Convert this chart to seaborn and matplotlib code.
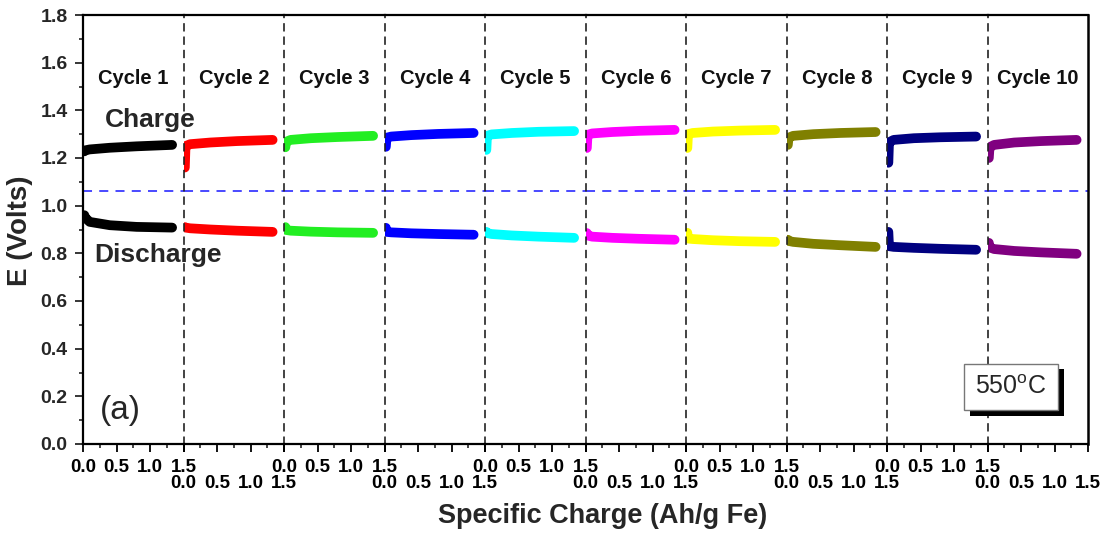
import numpy as np
import pandas as pd
import matplotlib
matplotlib.use("Agg")
import matplotlib.pyplot as plt
from matplotlib.ticker import MultipleLocator
from matplotlib import patheffects
import seaborn as sns

# ---------------- data ----------------
cycle_names = ["Cycle 1", "Cycle 2", "Cycle 3", "Cycle 4", "Cycle 5",
               "Cycle 6", "Cycle 7", "Cycle 8", "Cycle 9", "Cycle 10"]
cycle_colors = ["#000000", "#FF0000", "#22EE22", "#0000FF", "#00FFFF",
                "#FF00FF", "#FFFF00", "#808000", "#000080", "#800080"]

# specific charge (Ah/g Fe) sample points, same for every cycle
q_points = [0.02, 0.03, 0.10, 0.40, 0.80, 1.33]

charge_E = [
    [1.228, 1.232, 1.236, 1.243, 1.249, 1.255],
    [1.160, 1.250, 1.258, 1.265, 1.271, 1.276],
    [1.245, 1.268, 1.276, 1.283, 1.288, 1.293],
    [1.247, 1.285, 1.290, 1.296, 1.301, 1.305],
    [1.234, 1.293, 1.299, 1.305, 1.310, 1.313],
    [1.242, 1.297, 1.303, 1.309, 1.314, 1.318],
    [1.242, 1.300, 1.305, 1.311, 1.315, 1.318],
    [1.255, 1.285, 1.293, 1.300, 1.305, 1.309],
    [1.180, 1.266, 1.276, 1.283, 1.287, 1.290],
    [1.200, 1.245, 1.255, 1.265, 1.271, 1.276],
]
discharge_E = [
    [0.960, 0.950, 0.932, 0.918, 0.911, 0.908],
    [0.910, 0.908, 0.905, 0.900, 0.895, 0.890],
    [0.910, 0.898, 0.895, 0.891, 0.888, 0.886],
    [0.907, 0.890, 0.888, 0.884, 0.881, 0.878],
    [0.890, 0.885, 0.881, 0.875, 0.870, 0.865],
    [0.885, 0.875, 0.870, 0.865, 0.861, 0.857],
    [0.886, 0.862, 0.860, 0.855, 0.851, 0.848],
    [0.857, 0.852, 0.848, 0.840, 0.834, 0.827],
    [0.890, 0.830, 0.827, 0.823, 0.819, 0.815],
    [0.844, 0.825, 0.818, 0.810, 0.804, 0.798],
]
reference_E = 1.06
x_tick_values = [0.0, 0.5, 1.0, 1.5]
x_tick_labels = ["0.0", "0.5", "1.0", "1.5"]
temperature_label = r"550$^{\mathrm{o}}$C"

# ---------------- styling ----------------
sns.set_theme(style="ticks")
plt.rcParams["font.family"] = ["Liberation Sans", "DejaVu Sans"]
plt.rcParams["mathtext.fontset"] = "custom"
plt.rcParams["mathtext.rm"] = "Liberation Sans"
plt.rcParams["axes.facecolor"] = "none"

W, H = 1109, 535
fig, axes = plt.subplots(1, 10, sharey=True, figsize=(W / 100, H / 100), dpi=100)
fig.patch.set_facecolor("white")
fig.subplots_adjust(left=83 / W, right=1088 / W, top=1 - 15 / H,
                    bottom=1 - 444 / H, wspace=0)

for i, ax in enumerate(axes):
    df_c = pd.DataFrame({"q": q_points, "E": charge_E[i]})
    df_d = pd.DataFrame({"q": q_points, "E": discharge_E[i]})
    for df in (df_c, df_d):
        sns.lineplot(data=df, x="q", y="E", ax=ax, color=cycle_colors[i],
                     linewidth=7, sort=False, estimator=None,
                     solid_capstyle="round", solid_joinstyle="round")
    ax.axhline(reference_E, color="#3A3AFF", lw=1.3, ls=(0, (5, 4)), zorder=1)

    ax.set_xlim(0, 1.5)
    ax.set_ylim(0, 1.8)
    ax.set_xlabel("")
    ax.set_ylabel("")
    ax.set_xticks(x_tick_values)
    ax.set_xticklabels(x_tick_labels)
    ax.xaxis.set_minor_locator(MultipleLocator(0.25))
    pad = 4.5 if i % 2 == 0 else 16.5
    ax.tick_params(axis="x", which="major", direction="out", length=6,
                   width=1.3, pad=pad, labelsize=13.5, colors="black")
    ax.tick_params(axis="x", which="minor", direction="out", length=3, width=1.2)
    for lab in ax.get_xticklabels():
        lab.set_fontweight("bold")

    ax.text(0.75, 1.535, cycle_names[i], ha="center", va="center",
            fontsize=14.5, fontweight="bold", color="#111111")

    for s in ax.spines.values():
        s.set_color("black")
    ax.spines["top"].set_linewidth(1.6)
    ax.spines["bottom"].set_linewidth(1.6)
    if i == 0:
        ax.spines["left"].set_linewidth(1.6)
    else:
        ax.spines["left"].set_linewidth(1.2)
        ax.spines["left"].set_linestyle((0, (4, 4)))
        ax.spines["left"].set_color("#222222")
        ax.tick_params(axis="y", which="both", left=False, labelleft=False)
    if i == 9:
        ax.spines["right"].set_linewidth(1.8)
    else:
        ax.spines["right"].set_visible(False)

ax0 = axes[0]
ax0.yaxis.set_major_locator(MultipleLocator(0.2))
ax0.yaxis.set_minor_locator(MultipleLocator(0.1))
ax0.yaxis.set_major_formatter(matplotlib.ticker.FormatStrFormatter("%.1f"))
ax0.tick_params(axis="y", which="major", direction="out", length=6, width=1.3,
                pad=5, labelsize=14)
ax0.tick_params(axis="y", which="minor", direction="out", length=3, width=1.2)
for lab in ax0.get_yticklabels():
    lab.set_fontweight("bold")

# ---------------- annotations ----------------
def fx(px):
    return px / W

def fy(py):
    return 1 - py / H

fig.text(fx(150), fy(127), "Charge", ha="center", va="baseline",
         fontsize=19, fontweight="bold")
fig.text(fx(158), fy(262), "Discharge", ha="center", va="baseline",
         fontsize=19, fontweight="bold")
fig.text(fx(120), fy(410), "(a)", ha="center", va="center", fontsize=24)

t = fig.text(fx(1011), fy(387), temperature_label, ha="center", va="center",
             fontsize=18,
             bbox=dict(boxstyle="square,pad=0.45", fc="white", ec="#777777", lw=1))
t.get_bbox_patch().set_path_effects(
    [patheffects.withSimplePatchShadow(offset=(4, -4), shadow_rgbFace="black",
                                       alpha=1.0)])

fig.text(fx(20), fy(231), "E (Volts)", rotation=90, ha="center", va="center",
         fontsize=20, fontweight="bold")
fig.text(fx(603), fy(523), "Specific Charge (Ah/g Fe)", ha="center",
         va="baseline", fontsize=19.5, fontweight="bold")

fig.savefig("out.png", dpi=100, facecolor="white")
